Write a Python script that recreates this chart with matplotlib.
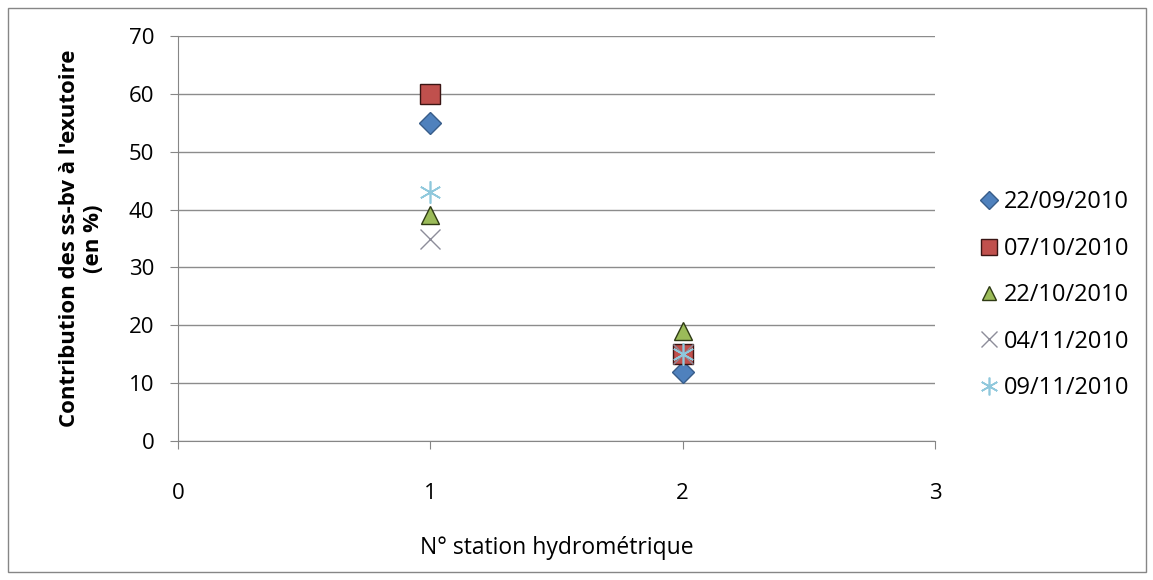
from matplotlib import pyplot as plt
from matplotlib.patches import Rectangle

plt.rcParams['font.family'] = ['Open Sans', 'DejaVu Sans']

# donnees
stations = [1, 2]
dates = ['22/09/2010', '07/10/2010', '22/10/2010', '04/11/2010', '09/11/2010']
v_2209 = [55, 12]
v_0710 = [60, 15]
v_2210 = [39, 19]
v_0411 = [35, 15]
v_0911 = [43, 15]
series = [v_2209, v_0710, v_2210, v_0411, v_0911]

styles = [
    dict(marker='D', color='#4F81BD', markeredgecolor='#385D8A', markersize=11),
    dict(marker='s', color='#C0504D', markeredgecolor='#3A1514', markersize=15),
    dict(marker='^', color='#9BBB59', markeredgecolor='#2E3A14', markersize=13),
    dict(marker='x', color='#8064A2', markeredgecolor='#8D8D9A', markersize=14, markeredgewidth=1),
    dict(marker=(6, 2, 0), color='#4BACC6', markeredgecolor='#8FC8DC', markersize=16, markeredgewidth=1.2),
]

fig = plt.figure(figsize=(11.53, 5.8), dpi=100)
ax = fig.add_axes([178/1153, 1-441/580, (935-178)/1153, (441-36)/580])

for d, vals, st in zip(dates, series, styles):
    ax.plot(stations, vals, linestyle='none', label=d, **st)

ax.set_xlim(0, 3)
ax.set_ylim(0, 70)
ax.set_xticks([0, 1, 2, 3])
ax.set_yticks(range(0, 71, 10))
ax.grid(axis='y', color='#8C8C8C', linewidth=1)
ax.set_axisbelow(True)
for s in ['top', 'right']:
    ax.spines[s].set_visible(False)
for s in ['left', 'bottom']:
    ax.spines[s].set_color('#868686')
ax.tick_params(direction='out', length=6, color='#868686', labelsize=16)
ax.tick_params(axis='x', pad=24)
ax.tick_params(axis='y', pad=11)

ax.set_xlabel('N° station hydrométrique', fontsize=16.5)
ax.xaxis.set_label_coords(0.5, -0.235)
ax.set_ylabel("Contribution des ss-bv à l'exutoire\n(en %)", fontsize=16,
              fontweight='bold', linespacing=1.2)
ax.yaxis.set_label_coords(-0.098, 0.5)

ax.legend(loc='center left', bbox_to_anchor=(1.025, 0.36), frameon=False,
          fontsize=17, handletextpad=0.0, labelspacing=0.95, handlelength=1.2,
          markerscale=0.8)

fig.patches.append(Rectangle((8/1153, 8/580), 1138/1153, 564/580, transform=fig.transFigure,
                             fill=False, edgecolor='#868686', linewidth=1))

plt.savefig('out.png', dpi=100)
